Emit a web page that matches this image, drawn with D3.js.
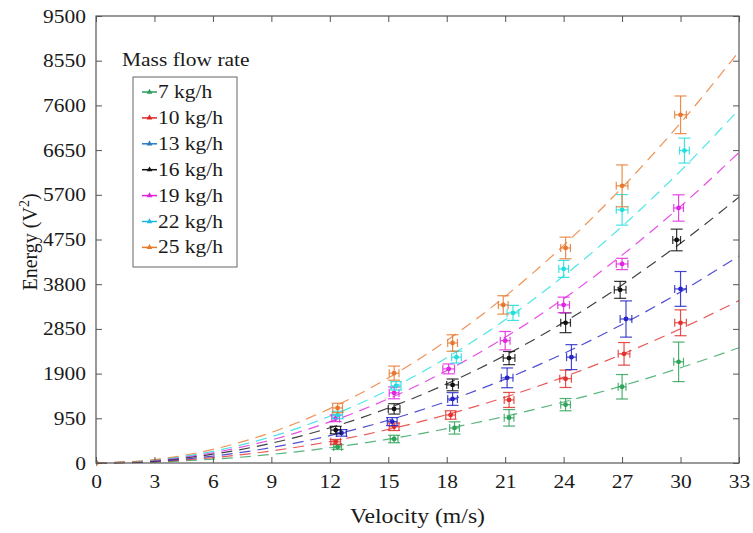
<!DOCTYPE html>
<html><head><meta charset="utf-8">
<script src="https://cdn.jsdelivr.net/npm/d3@7"></script>
<style>body{margin:0;background:#fff}svg{display:block}</style>
</head><body><svg id="c" width="753" height="533" font-family="'Liberation Serif','Times New Roman','DejaVu Serif',serif"></svg>
<script>
// ---- data ----
const seriesNames = ["7 kg/h","10 kg/h","13 kg/h","16 kg/h","19 kg/h","22 kg/h","25 kg/h"];
const colors = ["#2ea35a","#e4302c","#2424c8","#111111","#e024e0","#22dede","#e8782e"];
const legendColors = ["#2a9d5c","#e02424","#2a78c0","#111111","#e020e0","#20b8e0","#e87a2a"];
const xTicks = [0,3,6,9,12,15,18,21,24,27,30,33];
const yTicks = [0,950,1900,2850,3800,4750,5700,6650,7600,8550,9500];

const vel7  = [0,12.4,15.3,18.4,21.2,24.1,27.0,29.9];
const E7    = [0,340,510,745,960,1240,1620,2150];
const err7  = [0,50,80,130,175,130,260,420];
const xerr7 = [0,0.2,0.2,0.25,0.25,0.25,0.2,0.25];

const vel10  = [0,12.3,15.3,18.2,21.2,24.1,27.1,30.0];
const E10    = [0,450,770,1020,1340,1790,2320,2980];
const err10  = [0,50,80,90,160,185,240,275];
const xerr10 = [0,0.25,0.25,0.25,0.25,0.3,0.3,0.3];

const vel13  = [0,12.6,15.2,18.3,21.1,24.4,27.2,30.0];
const E13    = [0,640,880,1360,1810,2250,3060,3700];
const err13  = [0,70,85,135,210,265,385,370];
const xerr13 = [0,0.25,0.25,0.25,0.3,0.25,0.3,0.3];

const vel16  = [0,12.3,15.3,18.3,21.2,24.1,26.9,29.8];
const E16    = [0,700,1150,1660,2230,2980,3680,4740];
const err16  = [0,80,110,125,140,210,180,230];
const xerr16 = [0,0.25,0.3,0.3,0.3,0.25,0.3,0.2];

const vel19  = [0,12.3,15.3,18.1,21.0,24.0,27.0,29.9];
const E19    = [0,950,1490,2000,2600,3360,4230,5420];
const err19  = [0,70,125,105,195,165,120,280];
const xerr19 = [0,0.2,0.25,0.3,0.25,0.3,0.3,0.25];

const vel22  = [0,12.4,15.4,18.5,21.4,24.0,27.0,30.2];
const E22    = [0,1020,1640,2250,3190,4125,5380,6640];
const err22  = [0,80,90,125,160,180,325,265];
const xerr22 = [0,0.25,0.25,0.25,0.3,0.25,0.3,0.25];

const vel25  = [0,12.4,15.3,18.3,20.9,24.1,27.0,30.0];
const E25    = [0,1170,1910,2550,3360,4570,5890,7400];
const err25  = [0,100,150,175,195,230,445,400];
const xerr25 = [0,0.25,0.25,0.25,0.25,0.25,0.3,0.3];

// fitted (dashed) curves read at the x ticks
const fit7  = [0,20,81,182,324,506,729,992,1296,1640,2025,2450];
const fit10 = [0,29,114,257,456,713,1027,1398,1826,2311,2853,3452];
const fit13 = [0,36,145,327,582,909,1309,1782,2327,2945,3636,4400];
const fit16 = [0,47,187,420,747,1168,1682,2289,2989,3784,4671,5652];
const fit19 = [0,55,218,491,873,1364,1963,2672,3491,4418,5454,6600];
const fit22 = [0,62,248,559,994,1553,2236,3043,3974,5030,6210,7514];
const fit25 = [0,72,289,650,1156,1807,2602,3541,4625,5854,7227,8745];

const seriesList = [
  {v:vel7,e:E7,err:err7,xerr:xerr7,fit:fit7},
  {v:vel10,e:E10,err:err10,xerr:xerr10,fit:fit10},
  {v:vel13,e:E13,err:err13,xerr:xerr13,fit:fit13},
  {v:vel16,e:E16,err:err16,xerr:xerr16,fit:fit16},
  {v:vel19,e:E19,err:err19,xerr:xerr19,fit:fit19},
  {v:vel22,e:E22,err:err22,xerr:xerr22,fit:fit22},
  {v:vel25,e:E25,err:err25,xerr:xerr25,fit:fit25}
];

(function(){
// ---- layout ----
const L=96,R=739,T=16,B=463;
const SX=1.13; // horizontal stretch of the reference typography
const FF="'Liberation Serif','Times New Roman','DejaVu Serif',serif";
const svg=d3.select("#c");
const x=d3.scaleLinear().domain([0,33]).range([L,R]);
const y=d3.scaleLinear().domain([0,9500]).range([B,T]);
const axisColor="#555";
const txt="#1a1a1a";

function label(px,py,str,size,anchor){
  return svg.append("text").attr("transform",`translate(${px},${py}) scale(${SX},1)`)
    .attr("text-anchor",anchor||"start").attr("fill",txt).attr("font-family",FF)
    .style("font-size",size+"px").text(str);
}

// fitted curves
const line=d3.line().x((d,i)=>x(xTicks[i])).y(d=>y(d)).curve(d3.curveMonotoneX);
svg.append("clipPath").attr("id","pc").append("rect").attr("x",L).attr("y",T-8).attr("width",R-L).attr("height",B-T+16);
const plot=svg.append("g").attr("clip-path","url(#pc)");
seriesList.forEach((s,k)=>{
  plot.append("path").attr("d",line(s.fit)).attr("fill","none")
    .attr("stroke",colors[k]).attr("stroke-opacity",0.8).attr("stroke-width",1.2)
    .attr("stroke-dasharray","11,7");
});
// error bars + points
seriesList.forEach((s,k)=>{
  const g=plot.append("g").attr("stroke",colors[k]).attr("stroke-width",1.2).attr("stroke-opacity",0.85);
  s.v.forEach((v,i)=>{
    if(i===0) return;
    const cx=x(v), cy=y(s.e[i]), y1=y(s.e[i]-s.err[i]), y2=y(s.e[i]+s.err[i]);
    g.append("line").attr("x1",cx).attr("x2",cx).attr("y1",y1).attr("y2",y2);
    g.append("line").attr("x1",cx-6).attr("x2",cx+6).attr("y1",y1).attr("y2",y1);
    g.append("line").attr("x1",cx-6).attr("x2",cx+6).attr("y1",y2).attr("y2",y2);
    const xa=x(v-s.xerr[i]), xb=x(v+s.xerr[i]);
    g.append("line").attr("x1",xa).attr("x2",xb).attr("y1",cy).attr("y2",cy);
    g.append("line").attr("x1",xa).attr("x2",xa).attr("y1",cy-4).attr("y2",cy+4);
    g.append("line").attr("x1",xb).attr("x2",xb).attr("y1",cy-4).attr("y2",cy+4);
  });
  plot.append("g").selectAll("circle").data(s.v).join("circle")
    .attr("cx",d=>x(d)).attr("cy",(d,i)=>y(s.e[i])).attr("r",2.4).attr("fill",colors[k]);
});

// axes box with inward ticks
const ax=svg.append("g");
ax.append("rect").attr("x",L).attr("y",T).attr("width",R-L).attr("height",B-T).attr("fill","none").attr("stroke",axisColor).attr("stroke-width",1.2);
const fmt=d3.format("d");
const axB=d3.axisBottom(x).tickValues(xTicks).tickFormat(fmt).tickSizeInner(-6).tickSizeOuter(0).tickPadding(12);
const axL=d3.axisLeft(y).tickValues(yTicks).tickFormat(fmt).tickSizeInner(-6).tickSizeOuter(0).tickPadding(10);
const axT=d3.axisTop(x).tickValues(xTicks).tickSizeInner(-6).tickSizeOuter(0).tickFormat("");
const axR=d3.axisRight(y).tickValues(yTicks).tickSizeInner(-6).tickSizeOuter(0).tickFormat("");
[[axB,`translate(0,${B})`],[axL,`translate(${L},0)`],[axT,`translate(0,${T})`],[axR,`translate(${R},0)`]].forEach(([a,t])=>{
  const g=ax.append("g").attr("transform",t).call(a).attr("font-family",FF).attr("font-size",null);
  g.select(".domain").remove();
  g.selectAll(".tick line").attr("stroke",axisColor);
  g.selectAll(".tick text").attr("fill",txt).style("font-size","19px")
    .each(function(){
      const el=d3.select(this);
      const xv=+el.attr("x")||0;
      el.attr("x",xv/SX).attr("transform",`scale(${SX},1)`);
    });
});

// axis titles
label((L+R)/2,523,"Velocity (m/s)",21,"middle");
const yt=svg.append("text").attr("transform","translate(37,242) rotate(-90)").attr("text-anchor","middle")
  .attr("fill",txt).attr("font-family",FF).style("font-size","20px");
yt.append("tspan").text("Energy (V");
yt.append("tspan").attr("dy",-8).style("font-size","14px").text("2");
yt.append("tspan").attr("dy",8).text(")");

// legend
label(122,66,"Mass flow rate",19);
svg.append("rect").attr("x",133).attr("y",77).attr("width",104).attr("height",190).attr("fill","#fff").attr("stroke","#666").attr("stroke-width",1);
seriesNames.forEach((n,k)=>{
  const cy=92+k*25.9;
  svg.append("line").attr("x1",142).attr("x2",157).attr("y1",cy).attr("y2",cy).attr("stroke",legendColors[k]).attr("stroke-width",1.5);
  svg.append("path").attr("d",d3.symbol(d3.symbolTriangle,14)()).attr("transform",`translate(149.5,${cy})`).attr("fill",legendColors[k]);
  label(158,cy+6,n,19);
});
})();
</script></body></html>
